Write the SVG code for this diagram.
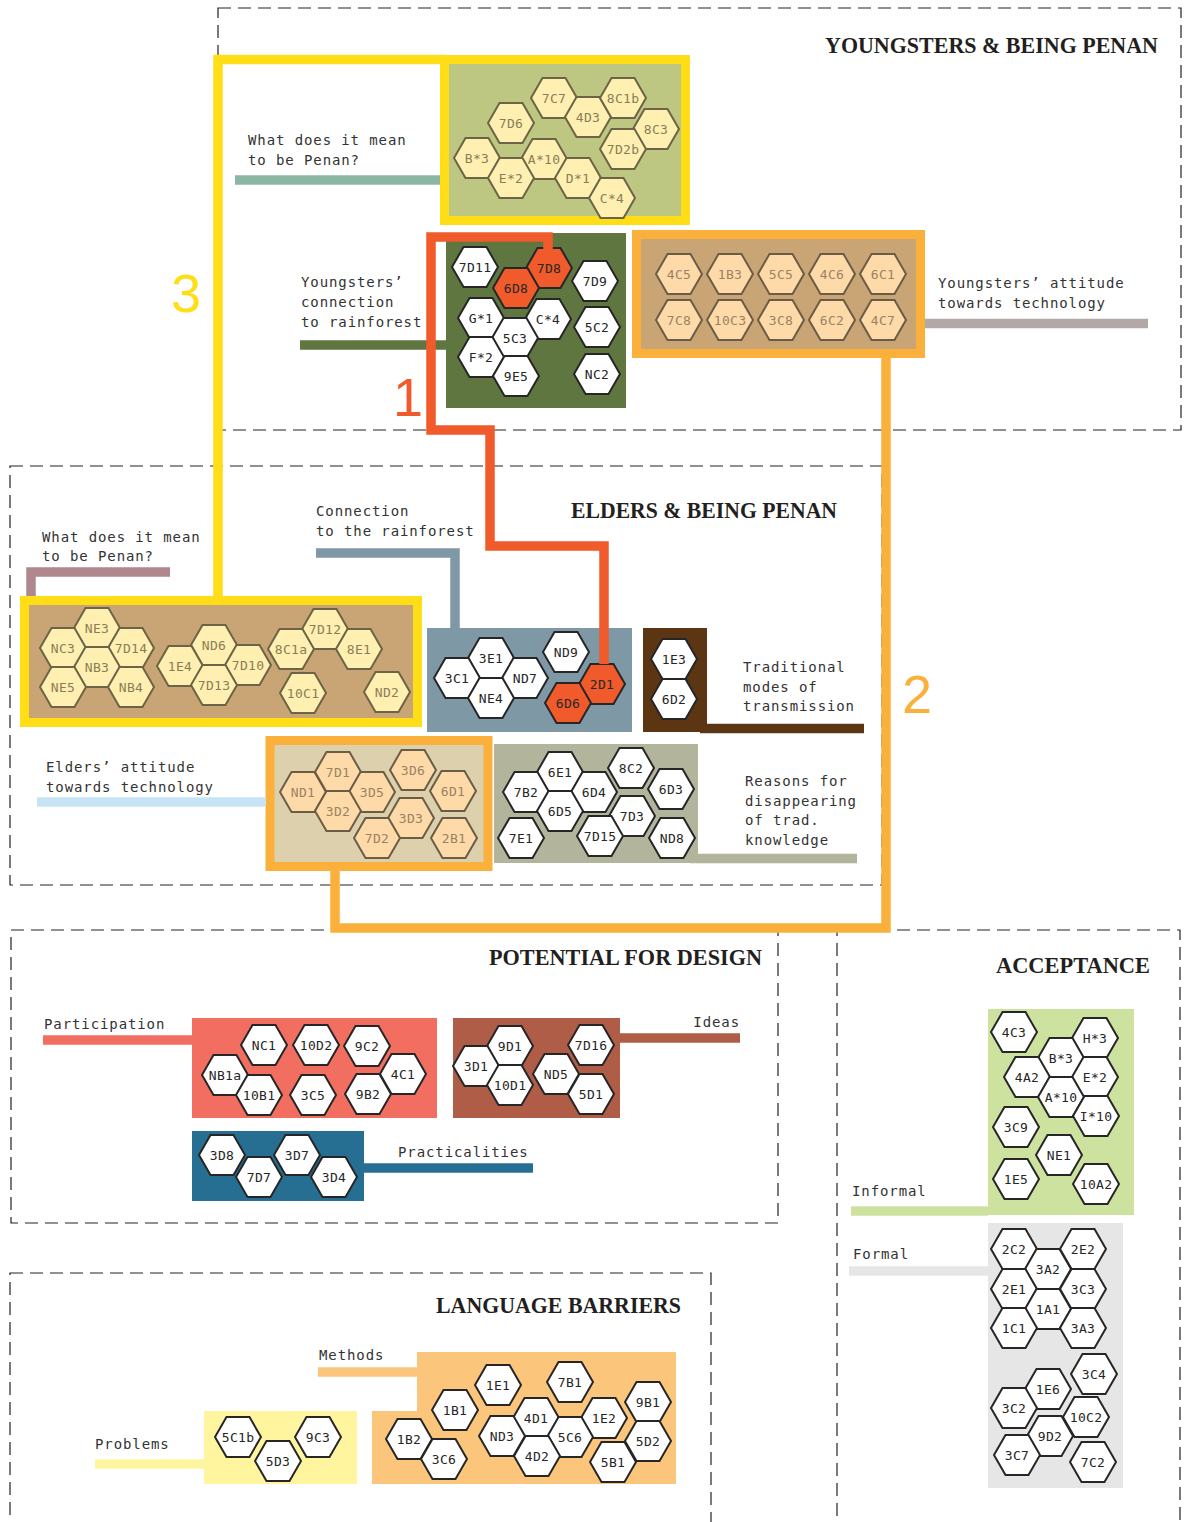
<svg xmlns="http://www.w3.org/2000/svg" xmlns:xlink="http://www.w3.org/1999/xlink" width="1189" height="1522" viewBox="0 0 1189 1522">
<style>
  .frame{fill:none;stroke:#222;stroke-width:1.2;stroke-dasharray:13 7}
  .title{font-family:"Liberation Serif",serif;font-weight:bold;font-size:24px;fill:#231f20;text-anchor:end}
  .lbl{font-family:"DejaVu Sans Mono",monospace;font-size:14px;letter-spacing:0.9px;fill:#333}
  .num{font-family:"Liberation Sans",sans-serif;font-size:54px}
  .h text{font-family:"DejaVu Sans Mono",monospace;font-size:13px;letter-spacing:0.3px;text-anchor:middle}
  .h use{stroke-width:2;stroke-linejoin:miter}
  .w use{fill:#fff;stroke:#262626}
  .w text{fill:#262626}
  .r use{fill:#f15a2b;stroke:#262626}
  .r text{fill:#262626}
  .py use{fill:#fff0b2;stroke:#6b6446}
  .py text{fill:#8a7d55}
  .pk use{fill:#fedaa9;stroke:#6b5c47}
  .pk text{fill:#9b8262}
  .ln{fill:none;stroke-width:9.5;stroke-linejoin:miter}
</style>
<defs>
  <polygon id="hx" points="23,0 11.5,19.9 -11.5,19.9 -23,0 -11.5,-19.9 11.5,-19.9"/>
</defs>

<!-- section frames -->
<g id="frames">
  <rect class="frame" x="218" y="8" width="963" height="422"/>
  <rect class="frame" x="10" y="466" width="872" height="419"/>
  <rect class="frame" x="11" y="930" width="767" height="293"/>
  <rect class="frame" x="837" y="930" width="343" height="610"/>
  <rect class="frame" x="10" y="1273" width="701" height="270"/>
  <text class="title" x="1158" y="53" textLength="333" lengthAdjust="spacingAndGlyphs">YOUNGSTERS &amp; BEING PENAN</text>
  <text class="title" x="837" y="518" textLength="266" lengthAdjust="spacingAndGlyphs">ELDERS &amp; BEING PENAN</text>
  <text class="title" x="762" y="965" textLength="273" lengthAdjust="spacingAndGlyphs">POTENTIAL FOR DESIGN</text>
  <text class="title" x="1150" y="973" textLength="154" lengthAdjust="spacingAndGlyphs">ACCEPTANCE</text>
  <text class="title" x="681" y="1313" textLength="245" lengthAdjust="spacingAndGlyphs">LANGUAGE BARRIERS</text>
</g>

<!-- Youngsters: what does it mean to be Penan -->
<g id="y-meaning">
  <rect x="444.5" y="59.5" width="241" height="161" fill="#bdc781" stroke="#ffdd17" stroke-width="9"/>
  <g class="h py" transform="translate(554,98)"><use href="#hx"/><text dy="4.5">7C7</text></g>
  <g class="h py" transform="translate(588,117)"><use href="#hx"/><text dy="4.5">4D3</text></g>
  <g class="h py" transform="translate(623,98)"><use href="#hx"/><text dy="4.5">8C1b</text></g>
  <g class="h py" transform="translate(511,123)"><use href="#hx"/><text dy="4.5">7D6</text></g>
  <g class="h py" transform="translate(656,129)"><use href="#hx"/><text dy="4.5">8C3</text></g>
  <g class="h py" transform="translate(623,149)"><use href="#hx"/><text dy="4.5">7D2b</text></g>
  <g class="h py" transform="translate(477,158)"><use href="#hx"/><text dy="4.5">B*3</text></g>
  <g class="h py" transform="translate(544,159)"><use href="#hx"/><text dy="4.5">A*10</text></g>
  <g class="h py" transform="translate(511,178)"><use href="#hx"/><text dy="4.5">E*2</text></g>
  <g class="h py" transform="translate(578,178)"><use href="#hx"/><text dy="4.5">D*1</text></g>
  <g class="h py" transform="translate(612,198)"><use href="#hx"/><text dy="4.5">C*4</text></g>
  <text class="lbl" x="248" y="145">What does it mean</text>
  <text class="lbl" x="248" y="165">to be Penan?</text>
</g>

<!-- Youngsters: connection to rainforest -->
<g id="y-rainforest">
  <rect x="446" y="233" width="180" height="175" fill="#5f7641"/>
  <g class="h w" transform="translate(475,267)"><use href="#hx"/><text dy="4.5">7D11</text></g>
  <g class="h r" transform="translate(549,268)"><use href="#hx"/><text dy="4.5">7D8</text></g>
  <g class="h r" transform="translate(516,288)"><use href="#hx"/><text dy="4.5">6D8</text></g>
  <g class="h w" transform="translate(595,281)"><use href="#hx"/><text dy="4.5">7D9</text></g>
  <g class="h w" transform="translate(481,318)"><use href="#hx"/><text dy="4.5">G*1</text></g>
  <g class="h w" transform="translate(548,319)"><use href="#hx"/><text dy="4.5">C*4</text></g>
  <g class="h w" transform="translate(515,338)"><use href="#hx"/><text dy="4.5">5C3</text></g>
  <g class="h w" transform="translate(597,327)"><use href="#hx"/><text dy="4.5">5C2</text></g>
  <g class="h w" transform="translate(481,357)"><use href="#hx"/><text dy="4.5">F*2</text></g>
  <g class="h w" transform="translate(516,376)"><use href="#hx"/><text dy="4.5">9E5</text></g>
  <g class="h w" transform="translate(597,374)"><use href="#hx"/><text dy="4.5">NC2</text></g>
  <text class="lbl" x="301" y="287">Youngsters’</text>
  <text class="lbl" x="301" y="307">connection</text>
  <text class="lbl" x="301" y="327">to rainforest</text>
</g>

<!-- Youngsters: attitude towards technology -->
<g id="y-technology">
  <rect x="636.5" y="234.5" width="284" height="119" fill="#c9a475" stroke="#fbb03b" stroke-width="9"/>
  <g class="h pk" transform="translate(679,274)"><use href="#hx"/><text dy="4.5">4C5</text></g>
  <g class="h pk" transform="translate(730,274)"><use href="#hx"/><text dy="4.5">1B3</text></g>
  <g class="h pk" transform="translate(781,274)"><use href="#hx"/><text dy="4.5">5C5</text></g>
  <g class="h pk" transform="translate(832,274)"><use href="#hx"/><text dy="4.5">4C6</text></g>
  <g class="h pk" transform="translate(883,274)"><use href="#hx"/><text dy="4.5">6C1</text></g>
  <g class="h pk" transform="translate(679,320)"><use href="#hx"/><text dy="4.5">7C8</text></g>
  <g class="h pk" transform="translate(730,320)"><use href="#hx"/><text dy="4.5">10C3</text></g>
  <g class="h pk" transform="translate(781,320)"><use href="#hx"/><text dy="4.5">3C8</text></g>
  <g class="h pk" transform="translate(832,320)"><use href="#hx"/><text dy="4.5">6C2</text></g>
  <g class="h pk" transform="translate(883,320)"><use href="#hx"/><text dy="4.5">4C7</text></g>
  <text class="lbl" x="938" y="288">Youngsters’ attitude</text>
  <text class="lbl" x="938" y="308">towards technology</text>
</g>

<!-- Elders: what does it mean to be Penan -->
<g id="e-meaning">
  <rect x="24.5" y="600.5" width="393" height="122" fill="#c9a475" stroke="#ffdd17" stroke-width="9"/>
  <g class="h py" transform="translate(97,628)"><use href="#hx"/><text dy="4.5">NE3</text></g>
  <g class="h py" transform="translate(63,648)"><use href="#hx"/><text dy="4.5">NC3</text></g>
  <g class="h py" transform="translate(131,648)"><use href="#hx"/><text dy="4.5">7D14</text></g>
  <g class="h py" transform="translate(97,667)"><use href="#hx"/><text dy="4.5">NB3</text></g>
  <g class="h py" transform="translate(63,687)"><use href="#hx"/><text dy="4.5">NE5</text></g>
  <g class="h py" transform="translate(131,687)"><use href="#hx"/><text dy="4.5">NB4</text></g>
  <g class="h py" transform="translate(214,645)"><use href="#hx"/><text dy="4.5">ND6</text></g>
  <g class="h py" transform="translate(180,666)"><use href="#hx"/><text dy="4.5">1E4</text></g>
  <g class="h py" transform="translate(248,665)"><use href="#hx"/><text dy="4.5">7D10</text></g>
  <g class="h py" transform="translate(214,685)"><use href="#hx"/><text dy="4.5">7D13</text></g>
  <g class="h py" transform="translate(325,629)"><use href="#hx"/><text dy="4.5">7D12</text></g>
  <g class="h py" transform="translate(291,649)"><use href="#hx"/><text dy="4.5">8C1a</text></g>
  <g class="h py" transform="translate(359,649)"><use href="#hx"/><text dy="4.5">8E1</text></g>
  <g class="h py" transform="translate(303,693)"><use href="#hx"/><text dy="4.5">10C1</text></g>
  <g class="h py" transform="translate(387,692)"><use href="#hx"/><text dy="4.5">ND2</text></g>
  <text class="lbl" x="42" y="542">What does it mean</text>
  <text class="lbl" x="42" y="561">to be Penan?</text>
</g>

<!-- Elders: connection to the rainforest -->
<g id="e-rainforest">
  <rect x="427" y="628" width="205" height="104" fill="#7f98a5"/>
  <g class="h w" transform="translate(491,658)"><use href="#hx"/><text dy="4.5">3E1</text></g>
  <g class="h w" transform="translate(457,678)"><use href="#hx"/><text dy="4.5">3C1</text></g>
  <g class="h w" transform="translate(525,678)"><use href="#hx"/><text dy="4.5">ND7</text></g>
  <g class="h w" transform="translate(491,698)"><use href="#hx"/><text dy="4.5">NE4</text></g>
  <g class="h w" transform="translate(566,652)"><use href="#hx"/><text dy="4.5">ND9</text></g>
  <g class="h r" transform="translate(602,684)"><use href="#hx"/><text dy="4.5">2D1</text></g>
  <g class="h r" transform="translate(568,703)"><use href="#hx"/><text dy="4.5">6D6</text></g>
  <text class="lbl" x="316" y="516">Connection</text>
  <text class="lbl" x="316" y="536">to the rainforest</text>
</g>

<!-- Elders: traditional modes of transmission -->
<g id="e-transmission">
  <rect x="643" y="628" width="64" height="104" fill="#5c3612"/>
  <g class="h w" transform="translate(674,659)"><use href="#hx"/><text dy="4.5">1E3</text></g>
  <g class="h w" transform="translate(674,699)"><use href="#hx"/><text dy="4.5">6D2</text></g>
  <text class="lbl" x="743" y="672">Traditional</text>
  <text class="lbl" x="743" y="692">modes of</text>
  <text class="lbl" x="743" y="711">transmission</text>
</g>

<!-- Elders: attitude towards technology -->
<g id="e-technology">
  <rect x="270" y="740.5" width="218" height="126" fill="#ddd0ac" stroke="#fbb03b" stroke-width="9"/>
  <g class="h pk" transform="translate(303,792)"><use href="#hx"/><text dy="4.5">ND1</text></g>
  <g class="h pk" transform="translate(338,772)"><use href="#hx"/><text dy="4.5">7D1</text></g>
  <g class="h pk" transform="translate(372,792)"><use href="#hx"/><text dy="4.5">3D5</text></g>
  <g class="h pk" transform="translate(338,811)"><use href="#hx"/><text dy="4.5">3D2</text></g>
  <g class="h pk" transform="translate(413,770)"><use href="#hx"/><text dy="4.5">3D6</text></g>
  <g class="h pk" transform="translate(453,791)"><use href="#hx"/><text dy="4.5">6D1</text></g>
  <g class="h pk" transform="translate(411,818)"><use href="#hx"/><text dy="4.5">3D3</text></g>
  <g class="h pk" transform="translate(377,838)"><use href="#hx"/><text dy="4.5">7D2</text></g>
  <g class="h pk" transform="translate(454,838)"><use href="#hx"/><text dy="4.5">2B1</text></g>
  <text class="lbl" x="46" y="772">Elders’ attitude</text>
  <text class="lbl" x="46" y="792">towards technology</text>
</g>

<!-- Elders: reasons for disappearing of traditional knowledge -->
<g id="e-disappearing">
  <rect x="494" y="744" width="204" height="119" fill="#b2b59c"/>
  <g class="h w" transform="translate(560,772)"><use href="#hx"/><text dy="4.5">6E1</text></g>
  <g class="h w" transform="translate(526,792)"><use href="#hx"/><text dy="4.5">7B2</text></g>
  <g class="h w" transform="translate(594,792)"><use href="#hx"/><text dy="4.5">6D4</text></g>
  <g class="h w" transform="translate(560,811)"><use href="#hx"/><text dy="4.5">6D5</text></g>
  <g class="h w" transform="translate(631,768)"><use href="#hx"/><text dy="4.5">8C2</text></g>
  <g class="h w" transform="translate(671,789)"><use href="#hx"/><text dy="4.5">6D3</text></g>
  <g class="h w" transform="translate(632,816)"><use href="#hx"/><text dy="4.5">7D3</text></g>
  <g class="h w" transform="translate(521,838)"><use href="#hx"/><text dy="4.5">7E1</text></g>
  <g class="h w" transform="translate(600,836)"><use href="#hx"/><text dy="4.5">7D15</text></g>
  <g class="h w" transform="translate(672,838)"><use href="#hx"/><text dy="4.5">ND8</text></g>
  <text class="lbl" x="745" y="786">Reasons for</text>
  <text class="lbl" x="745" y="806">disappearing</text>
  <text class="lbl" x="745" y="825">of trad.</text>
  <text class="lbl" x="745" y="845">knowledge</text>
</g>

<!-- Design: participation -->
<g id="d-participation">
  <rect x="192" y="1018" width="245" height="100" fill="#f26e61"/>
  <g class="h w" transform="translate(264,1045)"><use href="#hx"/><text dy="4.5">NC1</text></g>
  <g class="h w" transform="translate(316,1045)"><use href="#hx"/><text dy="4.5">10D2</text></g>
  <g class="h w" transform="translate(367,1046)"><use href="#hx"/><text dy="4.5">9C2</text></g>
  <g class="h w" transform="translate(225,1075)"><use href="#hx"/><text dy="4.5">NB1a</text></g>
  <g class="h w" transform="translate(259,1095)"><use href="#hx"/><text dy="4.5">10B1</text></g>
  <g class="h w" transform="translate(313,1095)"><use href="#hx"/><text dy="4.5">3C5</text></g>
  <g class="h w" transform="translate(368,1094)"><use href="#hx"/><text dy="4.5">9B2</text></g>
  <g class="h w" transform="translate(403,1074)"><use href="#hx"/><text dy="4.5">4C1</text></g>
  <text class="lbl" x="44" y="1029">Participation</text>
</g>

<!-- Design: ideas -->
<g id="d-ideas">
  <rect x="453" y="1018" width="167" height="100" fill="#b05d48"/>
  <g class="h w" transform="translate(510,1046)"><use href="#hx"/><text dy="4.5">9D1</text></g>
  <g class="h w" transform="translate(476,1066)"><use href="#hx"/><text dy="4.5">3D1</text></g>
  <g class="h w" transform="translate(510,1085)"><use href="#hx"/><text dy="4.5">10D1</text></g>
  <g class="h w" transform="translate(591,1045)"><use href="#hx"/><text dy="4.5">7D16</text></g>
  <g class="h w" transform="translate(556,1074)"><use href="#hx"/><text dy="4.5">ND5</text></g>
  <g class="h w" transform="translate(591,1094)"><use href="#hx"/><text dy="4.5">5D1</text></g>
  <text class="lbl" x="740" y="1027" text-anchor="end">Ideas</text>
</g>

<!-- Design: practicalities -->
<g id="d-practicalities">
  <rect x="192" y="1131" width="172" height="70" fill="#276f92"/>
  <g class="h w" transform="translate(222,1155)"><use href="#hx"/><text dy="4.5">3D8</text></g>
  <g class="h w" transform="translate(259,1177)"><use href="#hx"/><text dy="4.5">7D7</text></g>
  <g class="h w" transform="translate(297,1155)"><use href="#hx"/><text dy="4.5">3D7</text></g>
  <g class="h w" transform="translate(334,1177)"><use href="#hx"/><text dy="4.5">3D4</text></g>
  <text class="lbl" x="398" y="1157">Practicalities</text>
</g>

<!-- Acceptance: informal -->
<g id="a-informal">
  <rect x="988" y="1009" width="146" height="206" fill="#cee2a0"/>
  <g class="h w" transform="translate(1014,1032)"><use href="#hx"/><text dy="4.5">4C3</text></g>
  <g class="h w" transform="translate(1095,1038)"><use href="#hx"/><text dy="4.5">H*3</text></g>
  <g class="h w" transform="translate(1061,1058)"><use href="#hx"/><text dy="4.5">B*3</text></g>
  <g class="h w" transform="translate(1027,1077)"><use href="#hx"/><text dy="4.5">4A2</text></g>
  <g class="h w" transform="translate(1095,1077)"><use href="#hx"/><text dy="4.5">E*2</text></g>
  <g class="h w" transform="translate(1061,1097)"><use href="#hx"/><text dy="4.5">A*10</text></g>
  <g class="h w" transform="translate(1096,1116)"><use href="#hx"/><text dy="4.5">I*10</text></g>
  <g class="h w" transform="translate(1016,1127)"><use href="#hx"/><text dy="4.5">3C9</text></g>
  <g class="h w" transform="translate(1059,1155)"><use href="#hx"/><text dy="4.5">NE1</text></g>
  <g class="h w" transform="translate(1016,1179)"><use href="#hx"/><text dy="4.5">1E5</text></g>
  <g class="h w" transform="translate(1096,1184)"><use href="#hx"/><text dy="4.5">10A2</text></g>
  <text class="lbl" x="852" y="1196">Informal</text>
</g>

<!-- Acceptance: formal -->
<g id="a-formal">
  <rect x="988" y="1223" width="135" height="265" fill="#e6e6e7"/>
  <g class="h w" transform="translate(1014,1249)"><use href="#hx"/><text dy="4.5">2C2</text></g>
  <g class="h w" transform="translate(1083,1249)"><use href="#hx"/><text dy="4.5">2E2</text></g>
  <g class="h w" transform="translate(1048,1269)"><use href="#hx"/><text dy="4.5">3A2</text></g>
  <g class="h w" transform="translate(1014,1289)"><use href="#hx"/><text dy="4.5">2E1</text></g>
  <g class="h w" transform="translate(1083,1289)"><use href="#hx"/><text dy="4.5">3C3</text></g>
  <g class="h w" transform="translate(1048,1309)"><use href="#hx"/><text dy="4.5">1A1</text></g>
  <g class="h w" transform="translate(1014,1328)"><use href="#hx"/><text dy="4.5">1C1</text></g>
  <g class="h w" transform="translate(1083,1328)"><use href="#hx"/><text dy="4.5">3A3</text></g>
  <g class="h w" transform="translate(1094,1374)"><use href="#hx"/><text dy="4.5">3C4</text></g>
  <g class="h w" transform="translate(1048,1389)"><use href="#hx"/><text dy="4.5">1E6</text></g>
  <g class="h w" transform="translate(1014,1408)"><use href="#hx"/><text dy="4.5">3C2</text></g>
  <g class="h w" transform="translate(1086,1417)"><use href="#hx"/><text dy="4.5">10C2</text></g>
  <g class="h w" transform="translate(1050,1436)"><use href="#hx"/><text dy="4.5">9D2</text></g>
  <g class="h w" transform="translate(1017,1455)"><use href="#hx"/><text dy="4.5">3C7</text></g>
  <g class="h w" transform="translate(1093,1462)"><use href="#hx"/><text dy="4.5">7C2</text></g>
  <text class="lbl" x="853" y="1259">Formal</text>
</g>

<!-- Language barriers: methods -->
<g id="l-methods">
  <polygon points="417,1352 676,1352 676,1484 372,1484 372,1411 417,1411" fill="#fbc67b"/>
  <g class="h w" transform="translate(498,1385)"><use href="#hx"/><text dy="4.5">1E1</text></g>
  <g class="h w" transform="translate(570,1382)"><use href="#hx"/><text dy="4.5">7B1</text></g>
  <g class="h w" transform="translate(648,1402)"><use href="#hx"/><text dy="4.5">9B1</text></g>
  <g class="h w" transform="translate(455,1410)"><use href="#hx"/><text dy="4.5">1B1</text></g>
  <g class="h w" transform="translate(536,1418)"><use href="#hx"/><text dy="4.5">4D1</text></g>
  <g class="h w" transform="translate(604,1418)"><use href="#hx"/><text dy="4.5">1E2</text></g>
  <g class="h w" transform="translate(409,1439)"><use href="#hx"/><text dy="4.5">1B2</text></g>
  <g class="h w" transform="translate(502,1436)"><use href="#hx"/><text dy="4.5">ND3</text></g>
  <g class="h w" transform="translate(570,1437)"><use href="#hx"/><text dy="4.5">5C6</text></g>
  <g class="h w" transform="translate(648,1441)"><use href="#hx"/><text dy="4.5">5D2</text></g>
  <g class="h w" transform="translate(444,1459)"><use href="#hx"/><text dy="4.5">3C6</text></g>
  <g class="h w" transform="translate(537,1456)"><use href="#hx"/><text dy="4.5">4D2</text></g>
  <g class="h w" transform="translate(613,1462)"><use href="#hx"/><text dy="4.5">5B1</text></g>
  <text class="lbl" x="319" y="1360">Methods</text>
</g>

<!-- Language barriers: problems -->
<g id="l-problems">
  <rect x="204" y="1411" width="153" height="73" fill="#fff59e"/>
  <g class="h w" transform="translate(238,1437)"><use href="#hx"/><text dy="4.5">5C1b</text></g>
  <g class="h w" transform="translate(278,1461)"><use href="#hx"/><text dy="4.5">5D3</text></g>
  <g class="h w" transform="translate(318,1437)"><use href="#hx"/><text dy="4.5">9C3</text></g>
  <text class="lbl" x="95" y="1449">Problems</text>
</g>

<!-- connectors: label leaders and the three numbered links -->
<g id="connectors">
  <path class="ln" stroke="#8bb6a4" d="M235 180 H440"/>
  <path class="ln" stroke="#5f7641" d="M300 345 H446"/>
  <path class="ln" stroke="#b3a8a8" d="M925 323.5 H1148"/>
  <path class="ln" stroke="#b0878d" d="M31 596 V572 H170"/>
  <path class="ln" stroke="#7f98a5" d="M316 553 H455 V628"/>
  <path class="ln" stroke="#5c3612" d="M700 728.5 H864"/>
  <path class="ln" stroke="#c6e4f4" d="M37 802 H266"/>
  <path class="ln" stroke="#b2b59c" d="M690 858.5 H857"/>
  <path class="ln" stroke="#f26e61" d="M43 1040 H192"/>
  <path class="ln" stroke="#b05d48" d="M620 1038 H740"/>
  <path class="ln" stroke="#276f92" d="M363 1168 H533"/>
  <path class="ln" stroke="#cee2a0" d="M851 1211 H988"/>
  <path class="ln" stroke="#e6e6e7" d="M849 1271 H988"/>
  <path class="ln" stroke="#fbc67b" d="M318 1372 H418"/>
  <path class="ln" stroke="#fff59e" d="M95 1464 H205"/>
  <path class="ln" stroke="#ffdd17" stroke-width="9" d="M445 59.5 H218 V600"/>
  <path class="ln" stroke="#f15a2b" stroke-width="10" d="M548 249 V237 H431 V430 H490 V546 H604 V664"/>
  <path class="ln" stroke="#fbb03b" stroke-width="9" d="M886 356 V928 H335 V868"/>
  <text class="num" x="171" y="312" fill="#ffdd17">3</text>
  <text class="num" x="393" y="416" fill="#f15a2b">1</text>
  <text class="num" x="902" y="713" fill="#fbb03b">2</text>
</g>
</svg>
